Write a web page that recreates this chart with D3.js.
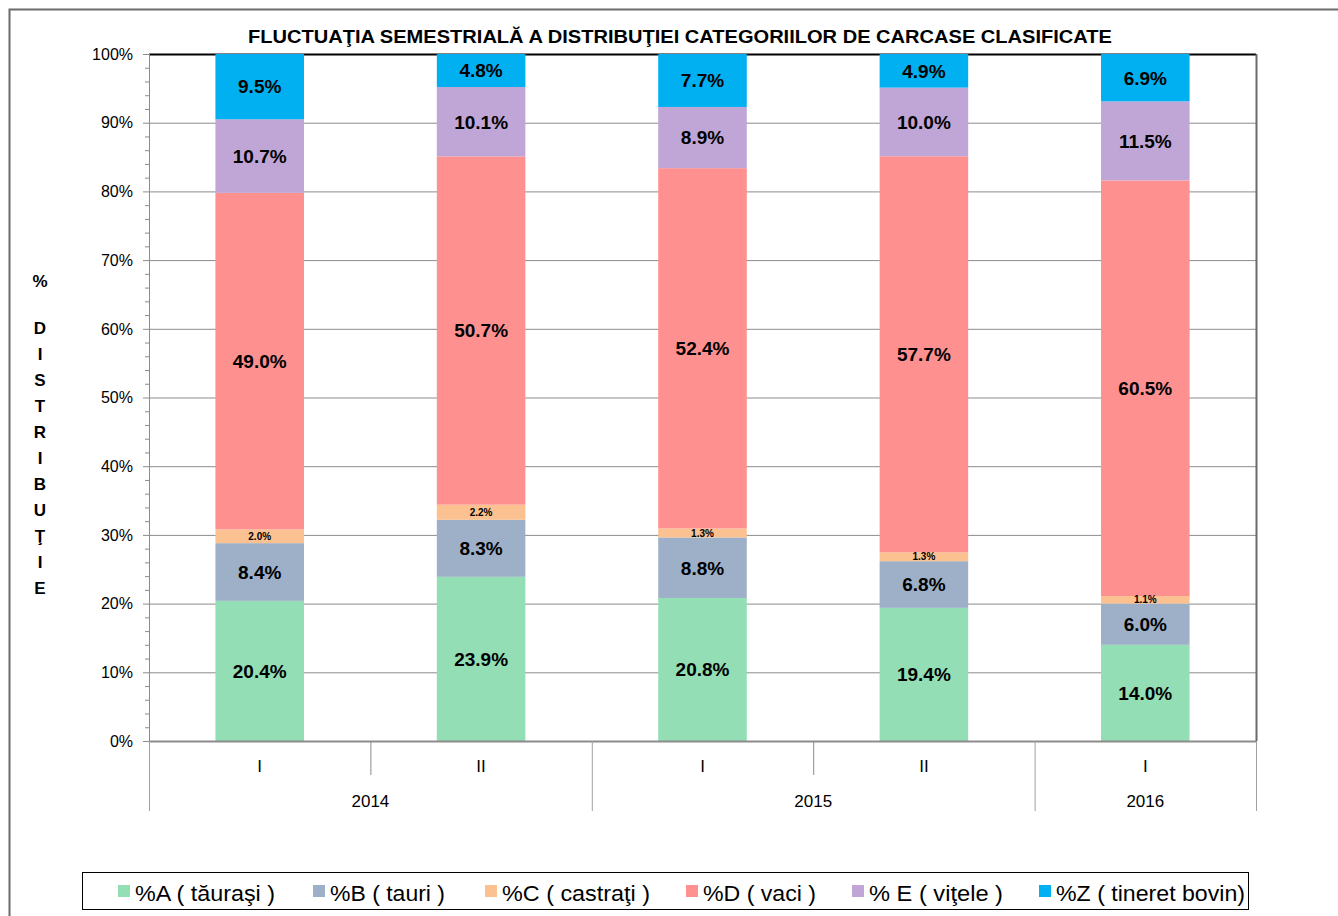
<!DOCTYPE html>
<html>
<head>
<meta charset="utf-8">
<script src="https://cdn.jsdelivr.net/npm/d3@7"></script>
<style>
  body { margin: 0; background: #fff; }
  svg { font-family: "Liberation Sans", Arial, sans-serif; }
</style>
</head>
<body>
<svg id="chart" width="1338" height="916"></svg>
<script>
// Semesters and years
var semesters = ["I", "II", "I", "II", "I"];
var years = [
  { name: "2014", from: 0, to: 2 },
  { name: "2015", from: 2, to: 4 },
  { name: "2016", from: 4, to: 5 }
];

// Series (percent of classified carcasses)
var seriesNames = ["%A ( tăuraşi )", "%B ( tauri )", "%C ( castraţi )", "%D ( vaci )", "% E ( viţele )", "%Z ( tineret bovin)"];
var seriesColors = ["#93DEB4", "#9DB0C8", "#FBC190", "#FF9090", "#C0A6D6", "#00B0F0"];
var valA = [20.4, 23.9, 20.8, 19.4, 14.0];
var valB = [8.4, 8.3, 8.8, 6.8, 6.0];
var valC = [2.0, 2.2, 1.3, 1.3, 1.1];
var valD = [49.0, 50.7, 52.4, 57.7, 60.5];
var valE = [10.7, 10.1, 8.9, 10.0, 11.5];
var valZ = [9.5, 4.8, 7.7, 4.9, 6.9];
var allSeries = [valA, valB, valC, valD, valE, valZ];

var yTicks = [0, 10, 20, 30, 40, 50, 60, 70, 80, 90, 100];
var axisWord = ["D", "I", "S", "T", "R", "I", "B", "U", "Ţ", "I", "E"];

var svg = d3.select("#chart");

// outer frame
svg.append("rect")
  .attr("x", 9.5).attr("y", 9.5)
  .attr("width", 1340).attr("height", 920)
  .attr("fill", "none").attr("stroke", "#6b6b6b").attr("stroke-width", 2);

// plot area
var plotLeft = 149, plotRight = 1256, plotTop = 54, plotBottom = 741;

var x = d3.scaleBand()
  .domain(d3.range(semesters.length))
  .range([plotLeft, plotRight])
  .paddingInner(0.6)
  .paddingOuter(0.3);
var xCat = d3.scaleBand()
  .domain(d3.range(semesters.length))
  .range([plotLeft, plotRight]);

var y = d3.scaleLinear().domain([0, 100]).range([plotBottom, plotTop]);

// gridlines
svg.append("g")
  .selectAll("line")
  .data(yTicks.slice(1))
  .enter().append("line")
  .attr("x1", plotLeft).attr("x2", plotRight)
  .attr("y1", function(d) { return y(d) + 0.5; })
  .attr("y2", function(d) { return y(d) + 0.5; })
  .attr("stroke", function(d) { return d == 100 ? "#000" : "#8c8c8c"; })
  .attr("stroke-width", function(d) { return d == 100 ? 2 : 1; });

// right border of plot
svg.append("line")
  .attr("x1", plotRight + 0.5).attr("x2", plotRight + 0.5)
  .attr("y1", plotTop).attr("y2", plotBottom)
  .attr("stroke", "#6b6b6b").attr("stroke-width", 2);

// stacked data (percent stacked, normalised like the spreadsheet)
var rows = semesters.map(function(s, i) {
  var row = {};
  var total = d3.sum(allSeries, function(v) { return v[i]; });
  allSeries.forEach(function(v, k) { row[k] = v[i] / total * 100; });
  return row;
});
var stack = d3.stack().keys(d3.range(allSeries.length));
var stacked = stack(rows);

var layers = svg.append("g").selectAll("g")
  .data(stacked)
  .enter().append("g")
  .attr("fill", function(d, k) { return seriesColors[k]; });

layers.selectAll("rect")
  .data(function(d) { return d; })
  .enter().append("rect")
  .attr("x", function(d, i) { return x(i); })
  .attr("width", x.bandwidth())
  .attr("y", function(d) { return y(d[1]); })
  .attr("height", function(d) { return y(d[0]) - y(d[1]); });

// value labels
stacked.forEach(function(layer, k) {
  layer.forEach(function(d, i) {
    var small = k == 2;
    svg.append("text")
      .attr("x", x(i) + x.bandwidth() / 2)
      .attr("y", (y(d[0]) + y(d[1])) / 2)
      .attr("dy", "0.36em")
      .attr("text-anchor", "middle")
      .attr("font-weight", "bold")
      .attr("font-size", small ? 10 : 19)
      .attr("fill", "#000")
      .text(allSeries[k][i].toFixed(1) + "%");
  });
});

// y axis
var yAxisG = svg.append("g");
yAxisG.append("line")
  .attr("x1", plotLeft + 0.5).attr("x2", plotLeft + 0.5)
  .attr("y1", plotTop).attr("y2", plotBottom)
  .attr("stroke", "#8c8c8c");
var minor = d3.range(0, 101, 2);
yAxisG.selectAll("line.tick")
  .data(minor)
  .enter().append("line")
  .attr("class", "tick")
  .attr("x1", function(d) { return d % 10 == 0 ? plotLeft - 6 : plotLeft - 4; })
  .attr("x2", plotLeft)
  .attr("y1", function(d) { return y(d) + 0.5; })
  .attr("y2", function(d) { return y(d) + 0.5; })
  .attr("stroke", "#8c8c8c");
yAxisG.selectAll("text")
  .data(yTicks)
  .enter().append("text")
  .attr("x", 133)
  .attr("y", function(d) { return y(d); })
  .attr("dy", "0.36em")
  .attr("text-anchor", "end")
  .attr("font-size", 16)
  .attr("fill", "#000")
  .text(function(d) { return d + "%"; });

// y axis title: "%" then the word written letter by letter
svg.append("text")
  .attr("x", 40).attr("y", 287)
  .attr("text-anchor", "middle")
  .attr("font-weight", "bold")
  .attr("font-size", 17)
  .text("%");
svg.append("g").selectAll("text")
  .data(axisWord)
  .enter().append("text")
  .attr("x", 40)
  .attr("y", function(d, i) { return 334 + i * 26; })
  .attr("text-anchor", "middle")
  .attr("font-weight", "bold")
  .attr("font-size", 17)
  .text(function(d) { return d; });

// x axis (two levels)
var xAxisG = svg.append("g");
xAxisG.append("line")
  .attr("x1", plotLeft).attr("x2", plotRight)
  .attr("y1", plotBottom + 0.5).attr("y2", plotBottom + 0.5)
  .attr("stroke", "#8c8c8c").attr("stroke-width", 2);
// inner separators
d3.range(1, semesters.length).forEach(function(i) {
  var isYear = years.some(function(g) { return g.from == i; });
  if (!isYear) {
    xAxisG.append("line")
      .attr("x1", xCat(i) + 0.5).attr("x2", xCat(i) + 0.5)
      .attr("y1", plotBottom).attr("y2", plotBottom + 34)
      .attr("stroke", "#8c8c8c");
  }
});
// year boundaries
var bounds = [0].concat(years.map(function(g) { return g.to; }));
bounds.forEach(function(b) {
  var bx = b == semesters.length ? plotRight : xCat(b);
  xAxisG.append("line")
    .attr("x1", bx + 0.5).attr("x2", bx + 0.5)
    .attr("y1", plotBottom).attr("y2", plotBottom + 70)
    .attr("stroke", "#a0a0a0");
});
xAxisG.selectAll("text.sem")
  .data(semesters)
  .enter().append("text")
  .attr("class", "sem")
  .attr("x", function(d, i) { return xCat(i) + xCat.bandwidth() / 2; })
  .attr("y", 772)
  .attr("text-anchor", "middle")
  .attr("font-size", 17)
  .text(function(d) { return d; });
xAxisG.selectAll("text.year")
  .data(years)
  .enter().append("text")
  .attr("class", "year")
  .attr("x", function(g) {
    var x0 = xCat(g.from);
    var x1 = g.to == semesters.length ? plotRight : xCat(g.to);
    return (x0 + x1) / 2;
  })
  .attr("y", 807)
  .attr("text-anchor", "middle")
  .attr("font-size", 17)
  .text(function(g) { return g.name; });

// title
svg.append("text")
  .attr("x", 680)
  .attr("y", 43)
  .attr("text-anchor", "middle")
  .attr("font-weight", "bold")
  .attr("font-size", 18)
  .attr("textLength", 864)
  .attr("lengthAdjust", "spacingAndGlyphs")
  .text("FLUCTUAŢIA SEMESTRIALĂ  A DISTRIBUŢIEI  CATEGORIILOR DE CARCASE CLASIFICATE");

// legend
var legendX = [118, 313, 485, 686, 852, 1039];
var legendW = [140, 115, 148, 113, 134, 189];
var legend = svg.append("g");
legend.append("rect")
  .attr("x", 82.5).attr("y", 872.5)
  .attr("width", 1166).attr("height", 37)
  .attr("fill", "#fff").attr("stroke", "#000");
seriesNames.forEach(function(name, k) {
  legend.append("rect")
    .attr("x", legendX[k]).attr("y", 885)
    .attr("width", 12).attr("height", 12)
    .attr("fill", seriesColors[k]);
  legend.append("text")
    .attr("x", legendX[k] + 17)
    .attr("y", 901)
    .attr("font-size", 22)
    .attr("textLength", legendW[k])
    .attr("lengthAdjust", "spacingAndGlyphs")
    .text(name);
});
</script>
</body>
</html>
